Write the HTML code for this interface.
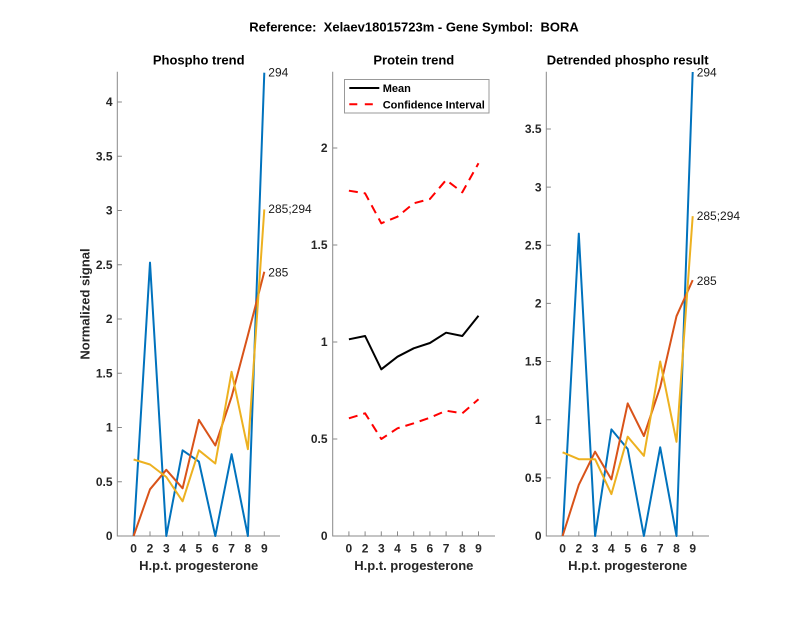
<!DOCTYPE html>
<html>
<head>
<meta charset="utf-8">
<style>
html,body{margin:0;padding:0;background:#fff;}
svg{display:block;}
text{font-family:"Liberation Sans",Arial,sans-serif;}
.tk{font-size:12px;font-weight:bold;fill:#262626;}
.ttl{font-size:13px;font-weight:bold;fill:#000;}
.lbl{font-size:13px;font-weight:bold;fill:#262626;}
.dl{font-size:12px;fill:#1a1a1a;}
.ax{stroke:#888;stroke-width:1;fill:none;}
.ln{fill:none;stroke-width:2;stroke-linejoin:round;stroke-linecap:butt;}
</style>
</head>
<body>
<svg width="800" height="618" viewBox="0 0 800 618" xmlns="http://www.w3.org/2000/svg">
<rect width="800" height="618" fill="#fff"/>

<!-- Main title -->
<text class="ttl" x="414" y="31.4" text-anchor="middle" xml:space="preserve">Reference:  Xelaev18015723m - Gene Symbol:  BORA</text>

<!-- ============ LEFT PANEL ============ -->
<text class="ttl" x="198.7" y="64.5" text-anchor="middle">Phospho trend</text>
<path class="ax" d="M117.3,71.7 V536 H280"/>
<g class="ax">
<path d="M117.3,536h4.6M117.3,481.75h4.6M117.3,427.5h4.6M117.3,373.25h4.6M117.3,319h4.6M117.3,264.75h4.6M117.3,210.5h4.6M117.3,156.25h4.6M117.3,102h4.6"/>
<path d="M133.6,536v-4.6M150,536v-4.6M166.3,536v-4.6M182.6,536v-4.6M198.9,536v-4.6M215.3,536v-4.6M231.6,536v-4.6M247.9,536v-4.6M264.3,536v-4.6"/>
</g>
<g class="tk" text-anchor="end">
<text x="112.5" y="540.2">0</text>
<text x="112.5" y="486">0.5</text>
<text x="112.5" y="431.7">1</text>
<text x="112.5" y="377.5">1.5</text>
<text x="112.5" y="323.2">2</text>
<text x="112.5" y="269">2.5</text>
<text x="112.5" y="214.7">3</text>
<text x="112.5" y="160.5">3.5</text>
<text x="112.5" y="106.2">4</text>
</g>
<g class="tk" text-anchor="middle">
<text x="133.6" y="552.6">0</text>
<text x="150" y="552.6">2</text>
<text x="166.3" y="552.6">3</text>
<text x="182.6" y="552.6">4</text>
<text x="198.9" y="552.6">5</text>
<text x="215.3" y="552.6">6</text>
<text x="231.6" y="552.6">7</text>
<text x="247.9" y="552.6">8</text>
<text x="264.3" y="552.6">9</text>
</g>
<text class="lbl" x="198.7" y="570" text-anchor="middle">H.p.t. progesterone</text>
<text class="lbl" transform="translate(89.3,304) rotate(-90)" text-anchor="middle">Normalized signal</text>

<polyline class="ln" stroke="#0072BD" points="133.6,536 150,262.6 166.3,536 182.6,450.3 198.9,461.6 215.3,536 231.6,454.2 247.9,536 264.3,72.7"/>
<polyline class="ln" stroke="#D95319" points="133.6,536 150,489.3 166.3,469.8 182.6,488.3 198.9,419.9 215.3,445.5 231.6,396.7 247.9,335.3 264.3,271.7"/>
<polyline class="ln" stroke="#EDB120" points="133.6,459.5 150,464.5 166.3,477 182.6,501.3 198.9,450.3 215.3,463.5 231.6,371.8 247.9,449.2 264.3,209.4"/>
<text class="dl" x="268.3" y="76.5">294</text>
<text class="dl" x="268.3" y="213.2">285;294</text>
<text class="dl" x="268.3" y="276.5">285</text>

<!-- ============ MIDDLE PANEL ============ -->
<text class="ttl" x="413.8" y="64.5" text-anchor="middle">Protein trend</text>
<path class="ax" d="M332.7,71.7 V536 H495"/>
<g class="ax">
<path d="M332.7,536h4.6M332.7,439h4.6M332.7,342h4.6M332.7,245h4.6M332.7,148h4.6"/>
<path d="M348.9,536v-4.6M365.1,536v-4.6M381.3,536v-4.6M397.5,536v-4.6M413.7,536v-4.6M429.9,536v-4.6M446.1,536v-4.6M462.3,536v-4.6M478.5,536v-4.6"/>
</g>
<g class="tk" text-anchor="end">
<text x="327.5" y="540.2">0</text>
<text x="327.5" y="443.2">0.5</text>
<text x="327.5" y="346.2">1</text>
<text x="327.5" y="249.2">1.5</text>
<text x="327.5" y="152.2">2</text>
</g>
<g class="tk" text-anchor="middle">
<text x="348.9" y="552.6">0</text>
<text x="365.1" y="552.6">2</text>
<text x="381.3" y="552.6">3</text>
<text x="397.5" y="552.6">4</text>
<text x="413.7" y="552.6">5</text>
<text x="429.9" y="552.6">6</text>
<text x="446.1" y="552.6">7</text>
<text x="462.3" y="552.6">8</text>
<text x="478.5" y="552.6">9</text>
</g>
<text class="lbl" x="413.8" y="570" text-anchor="middle">H.p.t. progesterone</text>

<polyline class="ln" stroke="#000" points="348.9,339.3 365.1,336 381.3,369.3 397.5,356.7 413.7,348.3 429.9,343 446.1,332.7 462.3,336 478.5,315.7"/>
<polyline class="ln" stroke="#FF0000" stroke-dasharray="9 6" points="348.9,190.7 365.1,193.3 381.3,223.3 397.5,216.7 413.7,203.3 429.9,199 446.1,180 462.3,192.3 478.5,163.3"/>
<polyline class="ln" stroke="#FF0000" stroke-dasharray="9 6" points="348.9,418.3 365.1,413.3 381.3,439 397.5,428.3 413.7,423.3 429.9,417.7 446.1,410.7 462.3,413.3 478.5,399.3"/>

<!-- Legend -->
<rect x="344.5" y="79.5" width="144.5" height="33.5" fill="#fff" stroke="#999" stroke-width="1"/>
<line x1="349.3" y1="88" x2="379.3" y2="88" stroke="#000" stroke-width="2"/>
<line x1="349.3" y1="104.3" x2="379.3" y2="104.3" stroke="#FF0000" stroke-width="2" stroke-dasharray="8 7.5"/>
<text x="382.7" y="92" style="font-size:11px;font-weight:bold;fill:#000">Mean</text>
<text x="382.7" y="108.3" style="font-size:11px;font-weight:bold;fill:#000">Confidence Interval</text>

<!-- ============ RIGHT PANEL ============ -->
<text class="ttl" x="627.7" y="64.5" text-anchor="middle">Detrended phospho result</text>
<path class="ax" d="M546.3,71.7 V536 H709"/>
<g class="ax">
<path d="M546.3,536h4.6M546.3,477.85h4.6M546.3,419.7h4.6M546.3,361.55h4.6M546.3,303.4h4.6M546.3,245.25h4.6M546.3,187.1h4.6M546.3,128.95h4.6"/>
<path d="M562.6,536v-4.6M578.8,536v-4.6M595.1,536v-4.6M611.4,536v-4.6M627.7,536v-4.6M643.9,536v-4.6M660.2,536v-4.6M676.5,536v-4.6M692.7,536v-4.6"/>
</g>
<g class="tk" text-anchor="end">
<text x="541.5" y="540.2">0</text>
<text x="541.5" y="482">0.5</text>
<text x="541.5" y="423.9">1</text>
<text x="541.5" y="365.7">1.5</text>
<text x="541.5" y="307.6">2</text>
<text x="541.5" y="249.4">2.5</text>
<text x="541.5" y="191.3">3</text>
<text x="541.5" y="133.1">3.5</text>
</g>
<g class="tk" text-anchor="middle">
<text x="562.6" y="552.6">0</text>
<text x="578.8" y="552.6">2</text>
<text x="595.1" y="552.6">3</text>
<text x="611.4" y="552.6">4</text>
<text x="627.7" y="552.6">5</text>
<text x="643.9" y="552.6">6</text>
<text x="660.2" y="552.6">7</text>
<text x="676.5" y="552.6">8</text>
<text x="692.7" y="552.6">9</text>
</g>
<text class="lbl" x="627.7" y="570" text-anchor="middle">H.p.t. progesterone</text>

<polyline class="ln" stroke="#0072BD" points="562.6,536 578.8,233.6 595.1,536 611.4,429.4 627.7,449 643.9,536 660.2,447.3 676.5,536 692.7,72"/>
<polyline class="ln" stroke="#D95319" points="562.6,536 578.8,484.8 595.1,451.7 611.4,479.4 627.7,403.4 643.9,436 660.2,387.1 676.5,316.2 692.7,280.1"/>
<polyline class="ln" stroke="#EDB120" points="562.6,452.3 578.8,459.2 595.1,459.2 611.4,494.1 627.7,436.7 643.9,455.8 660.2,361.5 676.5,441.8 692.7,216.2"/>
<text class="dl" x="696.7" y="76.5">294</text>
<text class="dl" x="696.7" y="219.9">285;294</text>
<text class="dl" x="696.7" y="284.9">285</text>
</svg>
</body>
</html>
